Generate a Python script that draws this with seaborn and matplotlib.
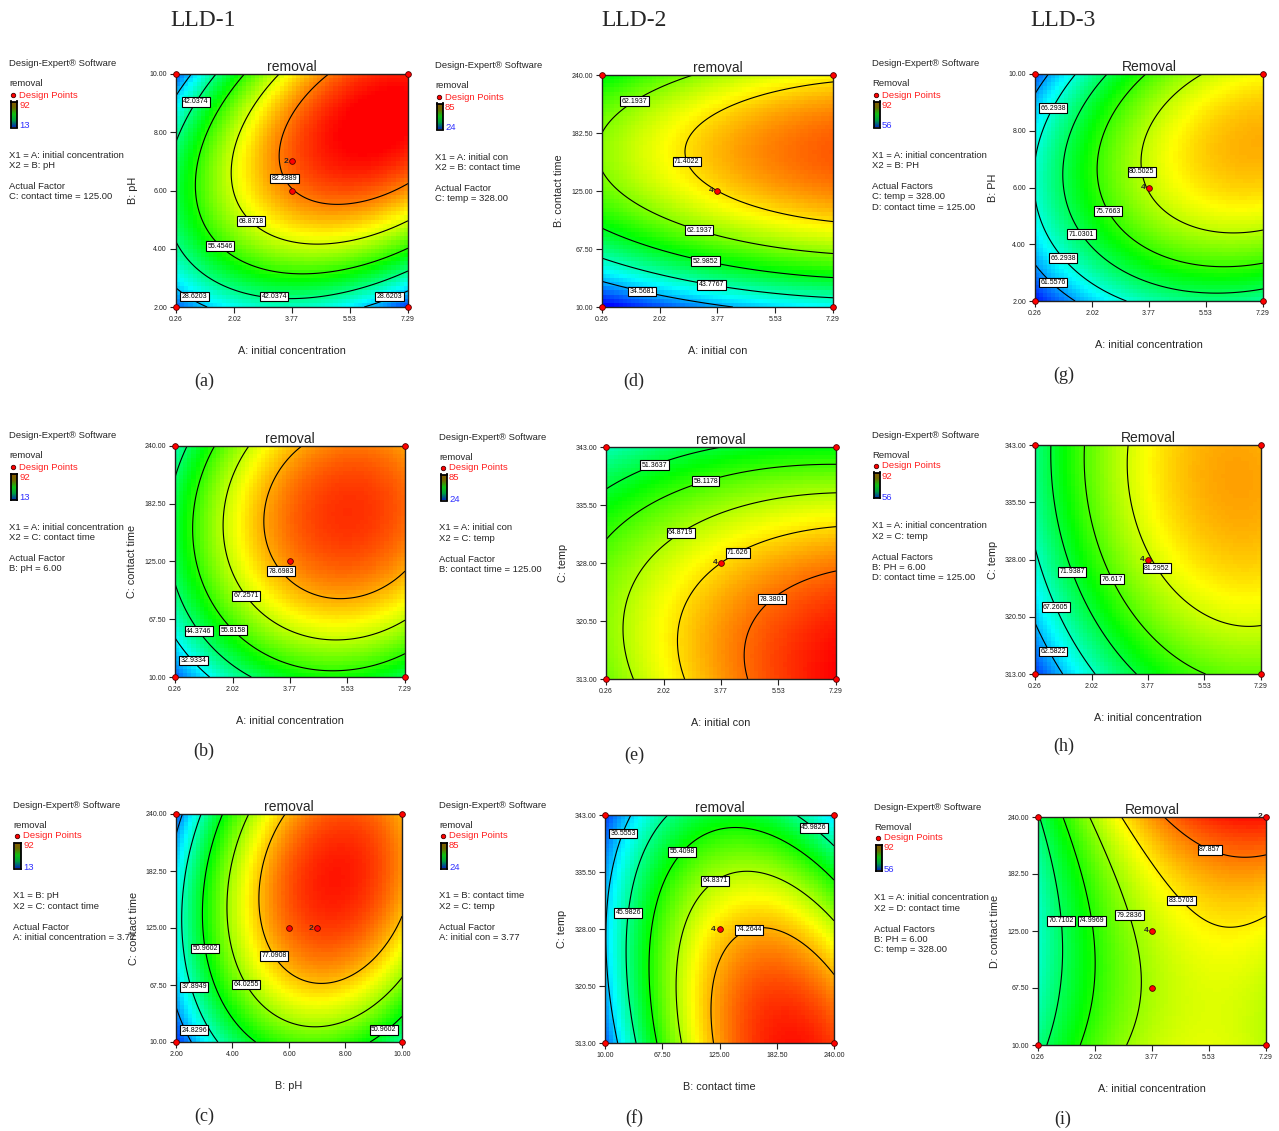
import numpy as np
import matplotlib
matplotlib.use("Agg")
import matplotlib.pyplot as plt
from matplotlib.colors import LinearSegmentedColormap
from matplotlib.lines import Line2D
import seaborn as sns

# ---- data ----
# tick values of the four factors
conc_ticks = [0.26, 2.02, 3.77, 5.53, 7.29]
ph_ticks = [2.00, 4.00, 6.00, 8.00, 10.00]
time_ticks = [10.00, 67.50, 125.00, 182.50, 240.00]
temp_ticks = [313.00, 320.50, 328.00, 335.50, 343.00]

# fitted quadratic models (coded units -1..1): b0, bX1, bX2, bX1X2, bX1^2, bX2^2
coef_a = [82.0, 16.6, 18.0, 18.6, -18.4, -27.0]
coef_b = [81.3, 16.7, 13.0, 3.6, -17.8, -17.5]
coef_c = [83.6, 20.7, 10.5, 8.45, -29.0, -16.0]
coef_d = [71.4, 8.4, 15.3, 0.0, -2.8, -22.6]
coef_e = [71.63, 8.57, -12.2, -3.5, -2.86, -8.1]
coef_f = [71.6, 15.2, -11.77, -10.75, -20.3, -7.7]
coef_g = [80.7, 8.96, 4.2, 2.9, -5.26, -8.8]
coef_h = [81.0, 9.0, 4.95, -0.8, -5.3, -3.05]
coef_i = [80.7, 8.0, 3.0, 2.5, -5.9, 3.1]

# contour levels printed on each plot
levels_a = [28.6203, 42.0374, 55.4546, 68.8718, 82.2889]
levels_b = [32.9334, 44.3746, 55.8158, 67.2571, 78.6983]
levels_c = [24.8296, 37.8949, 50.9602, 64.0255, 77.0908]
levels_d = [34.5681, 43.7767, 52.9852, 62.1937, 71.4022]
levels_e = [51.3637, 58.1178, 64.8719, 71.6260, 78.3801]
levels_f = [36.5553, 45.9826, 55.4098, 64.8371, 74.2644]
levels_g = [61.5576, 66.2938, 71.0301, 75.7663, 80.5025]
levels_h = [62.5822, 67.2605, 71.9387, 76.6170, 81.2952]
levels_i = [70.7102, 74.9969, 79.2836, 83.5703, 87.8570]

# response ranges (legend)
range_1 = [13, 92]
range_2 = [24, 85]
range_3 = [56, 92]

# design points
pts_a_x = [0.26, 0.26, 7.29, 7.29, 3.77, 3.77]
pts_a_y = [2.0, 10.0, 2.0, 10.0, 6.0, 7.0]
pts_b_x = [0.26, 0.26, 7.29, 7.29, 3.77]
pts_b_y = [10.0, 240.0, 10.0, 240.0, 125.0]
pts_c_x = [2.0, 2.0, 10.0, 10.0, 6.0, 7.0]
pts_c_y = [10.0, 240.0, 10.0, 240.0, 125.0, 125.0]
pts_d_x = [0.26, 0.26, 7.29, 7.29, 3.77]
pts_d_y = [10.0, 240.0, 10.0, 240.0, 125.0]
pts_e_x = [0.26, 0.26, 7.29, 7.29, 3.77]
pts_e_y = [313.0, 343.0, 313.0, 343.0, 328.0]
pts_f_x = [10.0, 10.0, 240.0, 240.0, 125.0]
pts_f_y = [313.0, 343.0, 313.0, 343.0, 328.0]
pts_g_x = [0.26, 0.26, 7.29, 7.29, 3.77]
pts_g_y = [2.0, 10.0, 2.0, 10.0, 6.0]
pts_h_x = [0.26, 0.26, 7.29, 7.29, 3.77]
pts_h_y = [313.0, 343.0, 313.0, 343.0, 328.0]
pts_i_x = [0.26, 0.26, 7.29, 7.29, 3.77, 3.77]
pts_i_y = [10.0, 240.0, 10.0, 240.0, 125.0, 67.5]

# replicate counts shown next to points
counts_a = [(3.77, 7.0, 2)]
counts_c = [(7.0, 125.0, 2)]
counts_d = [(3.77, 125.0, 4)]
counts_e = [(3.77, 328.0, 4)]
counts_f = [(125.0, 328.0, 4)]
counts_g = [(3.77, 6.0, 4)]
counts_h = [(3.77, 328.0, 4)]
counts_i = [(3.77, 125.0, 4), (7.29, 240.0, 2)]

# ---- layout ----
W, H = 1279, 1131
sns.set_style("ticks")
plt.rcParams['font.family'] = ['Liberation Sans', 'DejaVu Sans']

panels = [
    dict(box=(176, 74, 408, 307), info=(9, 64), title='removal', resp='removal', rng=range_1,
         coef=coef_a, levels=levels_a, xt=conc_ticks, yt=ph_ticks, px=pts_a_x, py=pts_a_y, counts=counts_a,
         xl='A: initial concentration', yl='B: pH', ylx=133,
         lines=['X1 = A: initial concentration', 'X2 = B: pH', '', 'Actual Factor', 'C: contact time = 125.00'],
         labs=[(0.07, 0.89), (0.455, 0.545), (0.325, 0.37), (0.20, 0.27), (0.075, 0.05), (0.425, 0.055), (0.925, 0.065)],
         letter='(a)', lpos=(204, 381)),
    dict(box=(175, 446, 405, 677), info=(9, 436), title='removal', resp='removal', rng=range_1,
         coef=coef_b, levels=levels_b, xt=conc_ticks, yt=time_ticks, px=pts_b_x, py=pts_b_y, counts=[],
         xl='A: initial concentration', yl='C: contact time', ylx=132,
         lines=['X1 = A: initial concentration', 'X2 = C: contact time', '', 'Actual Factor', 'B: pH = 6.00'],
         labs=[(0.445, 0.445), (0.30, 0.345), (0.105, 0.20), (0.25, 0.20), (0.075, 0.07)],
         letter='(b)', lpos=(204, 751)),
    dict(box=(176, 814, 402, 1042), info=(13, 805), title='removal', resp='removal', rng=range_1,
         coef=coef_c, levels=levels_c, xt=ph_ticks, yt=time_ticks, px=pts_c_x, py=pts_c_y, counts=counts_c,
         xl='B: pH', yl='C: contact time', ylx=134,
         lines=['X1 = B: pH', 'X2 = C: contact time', '', 'Actual Factor', 'A: initial concentration = 3.77'],
         labs=[(0.125, 0.41), (0.46, 0.395), (0.34, 0.27), (0.075, 0.245), (0.06, 0.06), (0.92, 0.07)],
         letter='(c)', lpos=(204, 1116)),
    dict(box=(602, 75, 833, 307), info=(435, 66), title='removal', resp='removal', rng=range_2,
         coef=coef_d, levels=levels_d, xt=conc_ticks, yt=time_ticks, px=pts_d_x, py=pts_d_y, counts=counts_d,
         xl='A: initial con', yl='B: contact time', ylx=559,
         lines=['X1 = A: initial con', 'X2 = B: contact time', '', 'Actual Factor', 'C: temp = 328.00'],
         labs=[(0.12, 0.92), (0.375, 0.63), (0.425, 0.345), (0.45, 0.205), (0.475, 0.10), (0.175, 0.07)],
         letter='(d)', lpos=(634, 381)),
    dict(box=(606, 447, 836, 679), info=(439, 437), title='removal', resp='removal', rng=range_2,
         coef=coef_e, levels=levels_e, xt=conc_ticks, yt=temp_ticks, px=pts_e_x, py=pts_e_y, counts=counts_e,
         xl='A: initial con', yl='C: temp', ylx=563,
         lines=['X1 = A: initial con', 'X2 = C: temp', '', 'Actual Factor', 'B: contact time = 125.00'],
         labs=[(0.20, 0.95), (0.425, 0.88), (0.315, 0.645), (0.58, 0.53), (0.72, 0.345)],
         letter='(e)', lpos=(634, 755)),
    dict(box=(605, 815, 834, 1043), info=(439, 805), title='removal', resp='removal', rng=range_2,
         coef=coef_f, levels=levels_f, xt=time_ticks, yt=temp_ticks, px=pts_f_x, py=pts_f_y, counts=counts_f,
         xl='B: contact time', yl='C: temp', ylx=562,
         lines=['X1 = B: contact time', 'X2 = C: temp', '', 'Actual Factor', 'A: initial con = 3.77'],
         labs=[(0.075, 0.92), (0.33, 0.845), (0.925, 0.96), (0.475, 0.72), (0.105, 0.57), (0.625, 0.51)],
         letter='(f)', lpos=(634, 1118)),
    dict(box=(1035, 74, 1263, 301), info=(872, 64), title='Removal', resp='Removal', rng=range_3,
         coef=coef_g, levels=levels_g, xt=conc_ticks, yt=ph_ticks, px=pts_g_x, py=pts_g_y, counts=counts_g,
         xl='A: initial concentration', yl='B: PH', ylx=993,
         lines=['X1 = A: initial concentration', 'X2 = B: PH', '', 'Actual Factors', 'C: temp = 328.00',
                'D: contact time = 125.00'],
         labs=[(0.075, 0.85), (0.47, 0.57), (0.32, 0.395), (0.205, 0.295), (0.125, 0.19), (0.075, 0.085)],
         letter='(g)', lpos=(1064, 375)),
    dict(box=(1035, 445, 1261, 674), info=(872, 435), title='Removal', resp='Removal', rng=range_3,
         coef=coef_h, levels=levels_h, xt=conc_ticks, yt=temp_ticks, px=pts_h_x, py=pts_h_y, counts=counts_h,
         xl='A: initial concentration', yl='C: temp', ylx=993,
         lines=['X1 = A: initial concentration', 'X2 = C: temp', '', 'Actual Factors', 'B: PH = 6.00',
                'D: contact time = 125.00'],
         labs=[(0.175, 0.45), (0.355, 0.42), (0.56, 0.475), (0.10, 0.295), (0.075, 0.105)],
         letter='(h)', lpos=(1064, 746)),
    dict(box=(1038, 817, 1266, 1045), info=(874, 807), title='Removal', resp='Removal', rng=range_3,
         coef=coef_i, levels=levels_i, xt=conc_ticks, yt=time_ticks, px=pts_i_x, py=pts_i_y, counts=counts_i,
         xl='A: initial concentration', yl='D: contact time', ylx=995,
         lines=['X1 = A: initial concentration', 'X2 = D: contact time', '', 'Actual Factors', 'B: PH = 6.00',
                'C: temp = 328.00'],
         labs=[(0.75, 0.85), (0.625, 0.63), (0.11, 0.545), (0.24, 0.545), (0.405, 0.57)],
         letter='(i)', lpos=(1063, 1119)),
]

cmap = LinearSegmentedColormap.from_list('de', ['#0000ff', '#00ffff', '#00ff00', '#ffff00', '#ff0000'])
bar_cmap = LinearSegmentedColormap.from_list('bar', ['#0030b0', '#00a040', '#10c010', '#6a6a00', '#8a5a00'])


def fx(px):
    return px / W


def fy(py):
    return 1 - py / H


def surface(c, x, y):
    return c[0] + c[1] * x + c[2] * y + c[3] * x * y + c[4] * x ** 2 + c[5] * y ** 2


def fmt(v):
    return f'{v:.4f}'.rstrip('0').rstrip('.')


fig = plt.figure(figsize=(W / 100, H / 100), dpi=100)

for p in panels:
    l, t, r, b = p['box']
    ax = fig.add_axes([fx(l), fy(b), (r - l) / W, (b - t) / H])
    xt, yt = p['xt'], p['yt']
    x0, x1, y0, y1 = xt[0], xt[-1], yt[0], yt[-1]
    lo, hi = p['rng']

    # blocky colour field like Design-Expert
    n = 56
    e = np.linspace(-1, 1, n + 1)
    m = (e[:-1] + e[1:]) / 2
    MX, MY = np.meshgrid(m, m)
    ax.pcolormesh(x0 + (e + 1) / 2 * (x1 - x0), y0 + (e + 1) / 2 * (y1 - y0), surface(p['coef'], MX, MY),
                  cmap=cmap, vmin=lo, vmax=hi, shading='flat', rasterized=True)

    g = np.linspace(-1, 1, 241)
    GX, GY = np.meshgrid(g, g)
    cs = ax.contour(x0 + (g + 1) / 2 * (x1 - x0), y0 + (g + 1) / 2 * (y1 - y0), surface(p['coef'], GX, GY),
                    levels=p['levels'], colors='black', linewidths=0.8)
    ax.set_xlim(x0, x1)
    ax.set_ylim(y0, y1)
    manual = [(x0 + a * (x1 - x0), y0 + c * (y1 - y0)) for a, c in p['labs']]
    texts = ax.clabel(cs, manual=manual, inline=False, fontsize=5, fmt=fmt)
    for tx in texts:
        tx.set_rotation(0)
        tx.set_bbox(dict(boxstyle='square,pad=0.2', fc='white', ec='black', lw=0.8))
        tx.set_zorder(7)
        # keep the label box inside the plot frame
        lx, ly = tx.get_position()
        fxl = min(max((lx - x0) / (x1 - x0), 0.08), 0.92)
        fyl = min(max((ly - y0) / (y1 - y0), 0.045), 0.955)
        tx.set_position((x0 + fxl * (x1 - x0), y0 + fyl * (y1 - y0)))

    sns.scatterplot(x=p['px'], y=p['py'], ax=ax, color='#ff0000', edgecolor='#500000', linewidth=0.6,
                    s=17, zorder=8, clip_on=False, legend=False)
    for cx, cy, k in p['counts']:
        ax.annotate(str(k), (cx, cy), xytext=(-2.5, 0), textcoords='offset points', ha='right', va='center',
                    fontsize=6, fontweight='bold', zorder=9)

    ax.set_xticks(xt)
    ax.set_xticklabels([f'{v:.2f}' for v in xt])
    ax.set_yticks(yt)
    ax.set_yticklabels([f'{v:.2f}' for v in yt])
    ax.tick_params(direction='out', length=4.5, width=0.8, labelsize=5, pad=2, colors='#222222')
    for s in ax.spines.values():
        s.set_linewidth(1.0)
        s.set_color('#202020')
    ax.set_title(p['title'], fontsize=10, pad=2.5)

    # axis titles
    fig.text(fx((l + r) / 2), fy(b + 44), p['xl'], ha='center', va='center', fontsize=7.8)
    fig.text(fx(p['ylx']), fy((t + b) / 2), p['yl'], ha='center', va='center', rotation=90, fontsize=7.8)

    # Design-Expert info block
    ix, iy = p['info']
    fs = 6.8
    fig.text(fx(ix), fy(iy), 'Design-Expert® Software', ha='left', va='center', fontsize=fs)
    fig.text(fx(ix), fy(iy + 20), p['resp'], ha='left', va='center', fontsize=fs)
    fig.add_artist(Line2D([fx(ix + 3.5)], [fy(iy + 31)], marker='o', ms=3.2, mfc='#ff0000', mec='#400000',
                          mew=0.6, transform=fig.transFigure))
    fig.text(fx(ix + 10), fy(iy + 31), 'Design Points', ha='left', va='center', fontsize=fs, color='#ff2020')
    bax = fig.add_axes([fx(ix + 1.5), fy(iy + 63.5), 6 / W, 26 / H])
    bax.imshow(np.linspace(0, 1, 40)[:, None], cmap=bar_cmap, aspect='auto', origin='lower')
    bax.set_xticks([])
    bax.set_yticks([])
    for s in bax.spines.values():
        s.set_linewidth(1.3)
        s.set_color('black')
    fig.text(fx(ix + 10), fy(iy + 41), str(hi), ha='left', va='center', fontsize=fs, color='#ff2020')
    fig.text(fx(ix + 10), fy(iy + 62), str(lo), ha='left', va='center', fontsize=fs, color='#3030ff')
    for k, line in enumerate(p['lines']):
        if line:
            fig.text(fx(ix), fy(iy + 91 + 10.4 * k), line, ha='left', va='center', fontsize=fs)

    fig.text(fx(p['lpos'][0]), fy(p['lpos'][1]), p['letter'], ha='center', va='center', fontsize=13,
             family='Liberation Serif')

for name, cx in [('LLD-1', 203), ('LLD-2', 634), ('LLD-3', 1063)]:
    fig.text(fx(cx), fy(20), name, ha='center', va='center', fontsize=17, family='Liberation Serif')

fig.savefig('out.png', dpi=100)
